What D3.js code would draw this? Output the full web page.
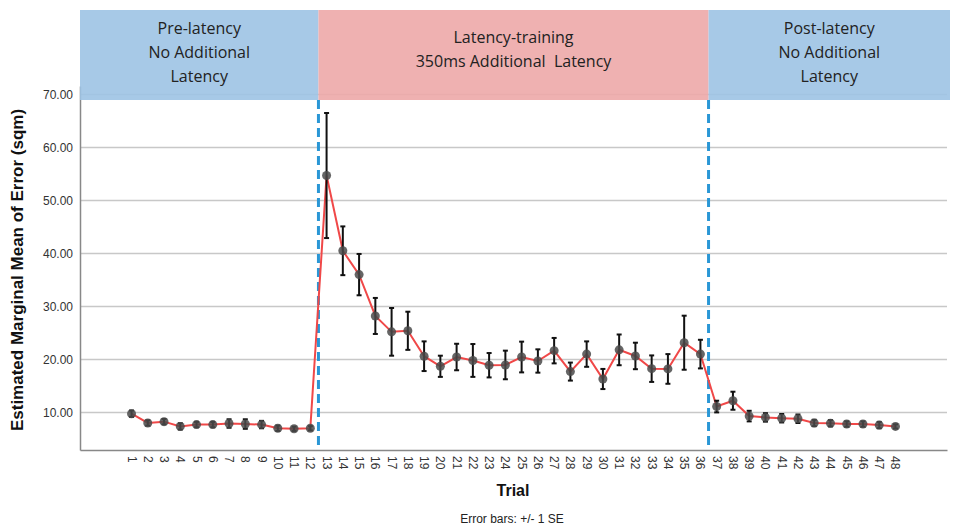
<!DOCTYPE html>
<html>
<head>
<meta charset="utf-8">
<script src="https://cdn.jsdelivr.net/npm/d3@7"></script>
<style>
  body { margin: 0; background: #fff; }
  svg { display: block; }
</style>
</head>
<body>
<svg id="chart" width="956" height="529"></svg>
<script>
// trials and estimated marginal means (sqm), with +/- 1 SE
var trials = d3.range(1, 49);
var means = [9.75, 8.0, 8.25, 7.35, 7.7, 7.7, 7.9, 7.8, 7.7, 7.0, 6.9, 7.0,
             54.7, 40.5, 36.0, 28.2, 25.2, 25.4, 20.6, 18.7, 20.45, 19.8, 18.9, 18.95,
             20.45, 19.7, 21.65, 17.7, 21.0, 16.3, 21.8, 20.65, 18.25, 18.2, 23.15, 21.0,
             11.1, 12.2, 9.3, 9.05, 8.9, 8.8, 8.0, 7.95, 7.8, 7.8, 7.6, 7.35];
var se = [0.6, 0.5, 0.5, 0.6, 0.5, 0.5, 0.8, 0.9, 0.7, 0.5, 0.4, 0.4,
          11.8, 4.6, 3.9, 3.4, 4.5, 3.6, 2.8, 2.0, 2.5, 3.1, 2.3, 2.7,
          2.9, 2.2, 2.4, 1.7, 2.4, 1.9, 2.9, 2.5, 2.5, 2.8, 5.1, 2.7,
          1.1, 1.7, 1.0, 0.8, 0.8, 0.8, 0.6, 0.6, 0.5, 0.5, 0.6, 0.4];
var yTicks = [10, 20, 30, 40, 50, 60, 70];
var phases = [
  {label: ['Pre-latency', 'No Additional', 'Latency'], from: 1, to: 12, color: '#9dc3e4'},
  {label: ['Latency-training', '350ms Additional  Latency'], from: 13, to: 36, color: '#eda8a8'},
  {label: ['Post-latency', 'No Additional', 'Latency'], from: 37, to: 48, color: '#9dc3e4'}
];

var svg = d3.select('#chart');
var plotL = 80, plotR = 947, plotT = 86, plotB = 450;

var x = d3.scalePoint().domain(trials).range([plotL, plotR]).padding(3.17);
var y = d3.scaleLinear().domain([2.9, 71.6]).range([plotB, plotT]);
var step = x.step();

var data = trials.map(function(t, i) { return {t: t, m: means[i], se: se[i]}; });

// gridlines
svg.append('g')
  .selectAll('line')
    .data(yTicks)
  .enter().append('line')
    .attr('x1', plotL).attr('x2', plotR)
    .attr('y1', function(d) { return y(d); })
    .attr('y2', function(d) { return y(d); })
    .attr('stroke', '#c8c8c8')
    .attr('stroke-width', 1.5);

// y axis
var yAxis = svg.append('g')
    .attr('transform', 'translate(' + plotL + ',0)')
    .call(d3.axisLeft(y).tickValues(yTicks).tickSize(0).tickPadding(7)
      .tickFormat(d3.format('.2f')));
yAxis.select('.domain').attr('stroke', '#888').attr('stroke-width', 1.5);
yAxis.selectAll('text')
    .attr('font-family', 'Liberation Sans, Arial, sans-serif')
    .attr('font-size', 12)
    .attr('fill', '#333');

// x axis
var xAxis = svg.append('g')
    .attr('transform', 'translate(0,' + plotB + ')')
    .call(d3.axisBottom(x).tickSize(0).tickSizeOuter(0));
xAxis.select('.domain').attr('stroke', '#888').attr('stroke-width', 1.5);
xAxis.selectAll('text')
    .attr('font-family', 'Liberation Sans, Arial, sans-serif')
    .attr('font-size', 12)
    .attr('fill', '#333')
    .attr('text-anchor', 'start')
    .attr('dy', null)
    .attr('y', 4.5)
    .attr('x', 6)
    .attr('transform', 'rotate(90)');

// phase header boxes
var bounds = function(p) {
  var x0 = p.from === 1 ? plotL : x(p.from) - step / 2;
  var x1 = p.to === 48 ? 950 : x(p.to) + step / 2;
  return [x0, x1];
};
var box = svg.append('g').selectAll('g')
    .data(phases)
  .enter().append('g');
box.append('rect')
    .attr('x', function(d) { return bounds(d)[0]; })
    .attr('y', 10)
    .attr('width', function(d) { var b = bounds(d); return b[1] - b[0]; })
    .attr('height', 90)
    .attr('fill', function(d) { return d.color; })
    .attr('opacity', 0.9);
box.each(function(d) {
  var b = bounds(d);
  var cx = (b[0] + b[1]) / 2;
  var y0 = d.label.length === 3 ? 34 : 43;
  d3.select(this).selectAll('text')
      .data(d.label)
    .enter().append('text')
      .attr('x', cx)
      .attr('y', function(s, i) { return y0 + i * 24; })
      .attr('text-anchor', 'middle')
      .attr('font-family', 'Open Sans, Noto Sans, sans-serif')
      .attr('font-size', 16)
      .attr('fill', '#222')
      .style('white-space', 'pre')
      .text(function(s) { return s; });
});

// phase dividers
svg.append('g').selectAll('line')
    .data([12, 36])
  .enter().append('line')
    .attr('x1', function(d) { return x(d) + step / 2; })
    .attr('x2', function(d) { return x(d) + step / 2; })
    .attr('y1', 100).attr('y2', plotB)
    .attr('stroke', '#2a97d6')
    .attr('stroke-width', 3)
    .attr('stroke-dasharray', '9,5');

// mean line
svg.append('path')
    .datum(data)
    .attr('fill', 'none')
    .attr('stroke', '#f04848')
    .attr('stroke-width', 2)
    .attr('d', d3.line()
      .x(function(d) { return x(d.t); })
      .y(function(d) { return y(d.m); }));

// error bars
var eb = svg.append('g').selectAll('g')
    .data(data)
  .enter().append('g')
    .attr('stroke', '#111')
    .attr('stroke-width', 2);
eb.append('line')
    .attr('x1', function(d) { return x(d.t); })
    .attr('x2', function(d) { return x(d.t); })
    .attr('y1', function(d) { return y(d.m + d.se); })
    .attr('y2', function(d) { return y(d.m - d.se); });
eb.selectAll('.cap')
    .data(function(d) { return [[d.t, d.m + d.se], [d.t, d.m - d.se]]; })
  .enter().append('line')
    .attr('class', 'cap')
    .attr('x1', function(d) { return x(d[0]) - 2.5; })
    .attr('x2', function(d) { return x(d[0]) + 2.5; })
    .attr('y1', function(d) { return y(d[1]); })
    .attr('y2', function(d) { return y(d[1]); });

// points
svg.append('g').selectAll('circle')
    .data(data)
  .enter().append('circle')
    .attr('cx', function(d) { return x(d.t); })
    .attr('cy', function(d) { return y(d.m); })
    .attr('r', 4.5)
    .attr('fill', '#4a4a4a')
    .attr('opacity', 0.85);

// titles
svg.append('text')
    .attr('transform', 'translate(23,' + 270 + ') rotate(-90)')
    .attr('text-anchor', 'middle')
    .attr('font-family', 'Liberation Sans, Arial, sans-serif')
    .attr('font-weight', 'bold')
    .attr('font-size', 17)
    .attr('fill', '#111')
    .text('Estimated Marginal Mean of Error (sqm)');

svg.append('text')
    .attr('x', 513).attr('y', 496)
    .attr('text-anchor', 'middle')
    .attr('font-family', 'Liberation Sans, Arial, sans-serif')
    .attr('font-weight', 'bold')
    .attr('font-size', 16)
    .attr('fill', '#111')
    .text('Trial');

svg.append('text')
    .attr('x', 512).attr('y', 523)
    .attr('text-anchor', 'middle')
    .attr('font-family', 'Liberation Sans, Arial, sans-serif')
    .attr('font-size', 12)
    .attr('fill', '#222')
    .text('Error bars: +/- 1 SE');
</script>
</body>
</html>
